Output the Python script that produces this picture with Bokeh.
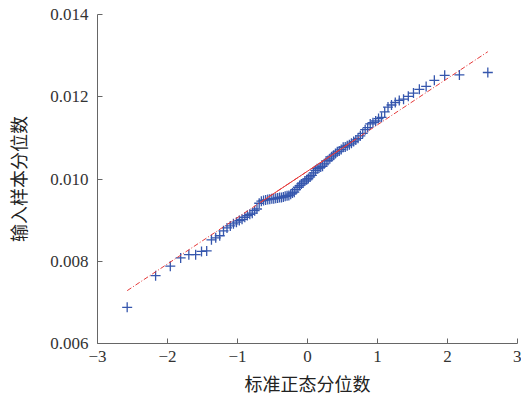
from bokeh.embed import file_html
from bokeh.models import FixedTicker, Range1d
from bokeh.plotting import figure
from bokeh.resources import INLINE

# theoretical standard normal quantiles (n = 100)
x_q = [
    -2.576, -2.170, -1.960, -1.812, -1.695, -1.598, -1.514, -1.440, -1.372, -1.311,
    -1.254, -1.200, -1.150, -1.103, -1.058, -1.015, -0.974, -0.935, -0.896, -0.860,
    -0.824, -0.789, -0.755, -0.722, -0.690, -0.659, -0.628, -0.598, -0.568, -0.539,
    -0.510, -0.482, -0.454, -0.426, -0.399, -0.372, -0.345, -0.319, -0.292, -0.266,
    -0.240, -0.215, -0.189, -0.164, -0.138, -0.113, -0.088, -0.063, -0.038, -0.0125,
    0.0125, 0.038, 0.063, 0.088, 0.113, 0.138, 0.164, 0.189, 0.215, 0.240,
    0.266, 0.292, 0.319, 0.345, 0.372, 0.399, 0.426, 0.454, 0.482, 0.510,
    0.539, 0.568, 0.598, 0.628, 0.659, 0.690, 0.722, 0.755, 0.789, 0.824,
    0.860, 0.896, 0.935, 0.974, 1.015, 1.058, 1.103, 1.150, 1.200, 1.254,
    1.311, 1.372, 1.440, 1.514, 1.598, 1.695, 1.812, 1.960, 2.170, 2.576,
]

# sorted sample quantiles
y_s = [
    0.00688, 0.00765, 0.00788, 0.00808, 0.00816, 0.00816, 0.00824, 0.00825, 0.00852, 0.00857,
    0.00862, 0.00874, 0.00881, 0.00886, 0.00891, 0.00895, 0.00899, 0.00902, 0.00907, 0.00911,
    0.00914, 0.00917, 0.00923, 0.00927, 0.00941, 0.00946, 0.00948, 0.00949, 0.00950, 0.00951,
    0.00952, 0.00952, 0.00953, 0.00954, 0.00955, 0.00955, 0.00956, 0.00958, 0.00959, 0.00960,
    0.00963, 0.00966, 0.00968, 0.00974, 0.00980, 0.00984, 0.00988, 0.00990, 0.00995, 0.00998,
    0.01001, 0.01005, 0.01009, 0.01015, 0.01021, 0.01025, 0.01027, 0.01029, 0.01031, 0.01037,
    0.01044, 0.01045, 0.01049, 0.01054, 0.01058, 0.01062, 0.01066, 0.01068, 0.01072, 0.01077,
    0.01078, 0.01081, 0.01083, 0.01087, 0.01091, 0.01095, 0.01099, 0.01105, 0.01111, 0.01120,
    0.01125, 0.01134, 0.01137, 0.01141, 0.01147, 0.01150, 0.01163, 0.01175, 0.01180, 0.01186,
    0.01191, 0.01194, 0.01201, 0.01209, 0.01218, 0.01225, 0.01240, 0.01252, 0.01253, 0.01259,
]

# quartile points the reference line goes through
q_x = [-0.674, 0.674]
q_y = [0.00943, 0.01095]

x_ticks = [-3, -2, -1, 0, 1, 2, 3]
x_labels = ["\u22123", "\u22122", "\u22121", "0", "1", "2", "3"]
y_ticks = [0.006, 0.008, 0.010, 0.012, 0.014]
y_labels = ["0.006", "0.008", "0.010", "0.012", "0.014"]

slope = (q_y[1] - q_y[0]) / (q_x[1] - q_x[0])
ext_x = [x_q[0], x_q[-1]]
ext_y = [q_y[0] + slope * (v - q_x[0]) for v in ext_x]

p = figure(width=521, height=400, output_backend="svg", toolbar_location=None,
           x_range=Range1d(-3, 3), y_range=Range1d(0.006, 0.014),
           min_border_left=97, min_border_right=4, min_border_top=14, min_border_bottom=57)
p.outline_line_color = None
p.grid.visible = False
p.background_fill_color = "white"
p.border_fill_color = "white"

p.scatter(x_q, y_s, marker="cross", size=10, line_color="#3556ad", line_width=1.3)

# reference line: dash-dot outside the quartiles, solid between them
p.line(ext_x, ext_y, line_color="#e53a3a", line_width=1, line_dash="5 2 1 2")
p.line(q_x, q_y, line_color="#e53a3a", line_width=1)

p.xaxis.axis_label = "标准正态分位数"
p.yaxis.axis_label = "输入样本分位数"
p.xaxis.ticker = FixedTicker(ticks=x_ticks)
p.yaxis.ticker = FixedTicker(ticks=y_ticks)
p.xaxis.major_label_overrides = dict(zip(x_ticks, x_labels))
p.yaxis.major_label_overrides = dict(zip(y_ticks, y_labels))

for ax in (p.xaxis, p.yaxis):
    ax.axis_line_color = "#666666"
    ax.major_tick_line_color = "#666666"
    ax.major_tick_in = 5
    ax.major_tick_out = 0
    ax.minor_tick_line_color = None
    ax.major_label_text_font = "Liberation Serif"
    ax.major_label_text_font_size = "17px"
    ax.major_label_text_color = "#333333"
    ax.axis_label_text_font = "Noto Sans CJK SC"
    ax.axis_label_text_font_size = "18px"
    ax.axis_label_text_font_style = "normal"
    ax.axis_label_text_color = "#222222"

p.xaxis.major_label_standoff = 7
p.xaxis.axis_label_standoff = 5
p.yaxis.major_label_standoff = 9
p.yaxis.axis_label_standoff = 16

open("out.html", "w").write(file_html(p, INLINE))
